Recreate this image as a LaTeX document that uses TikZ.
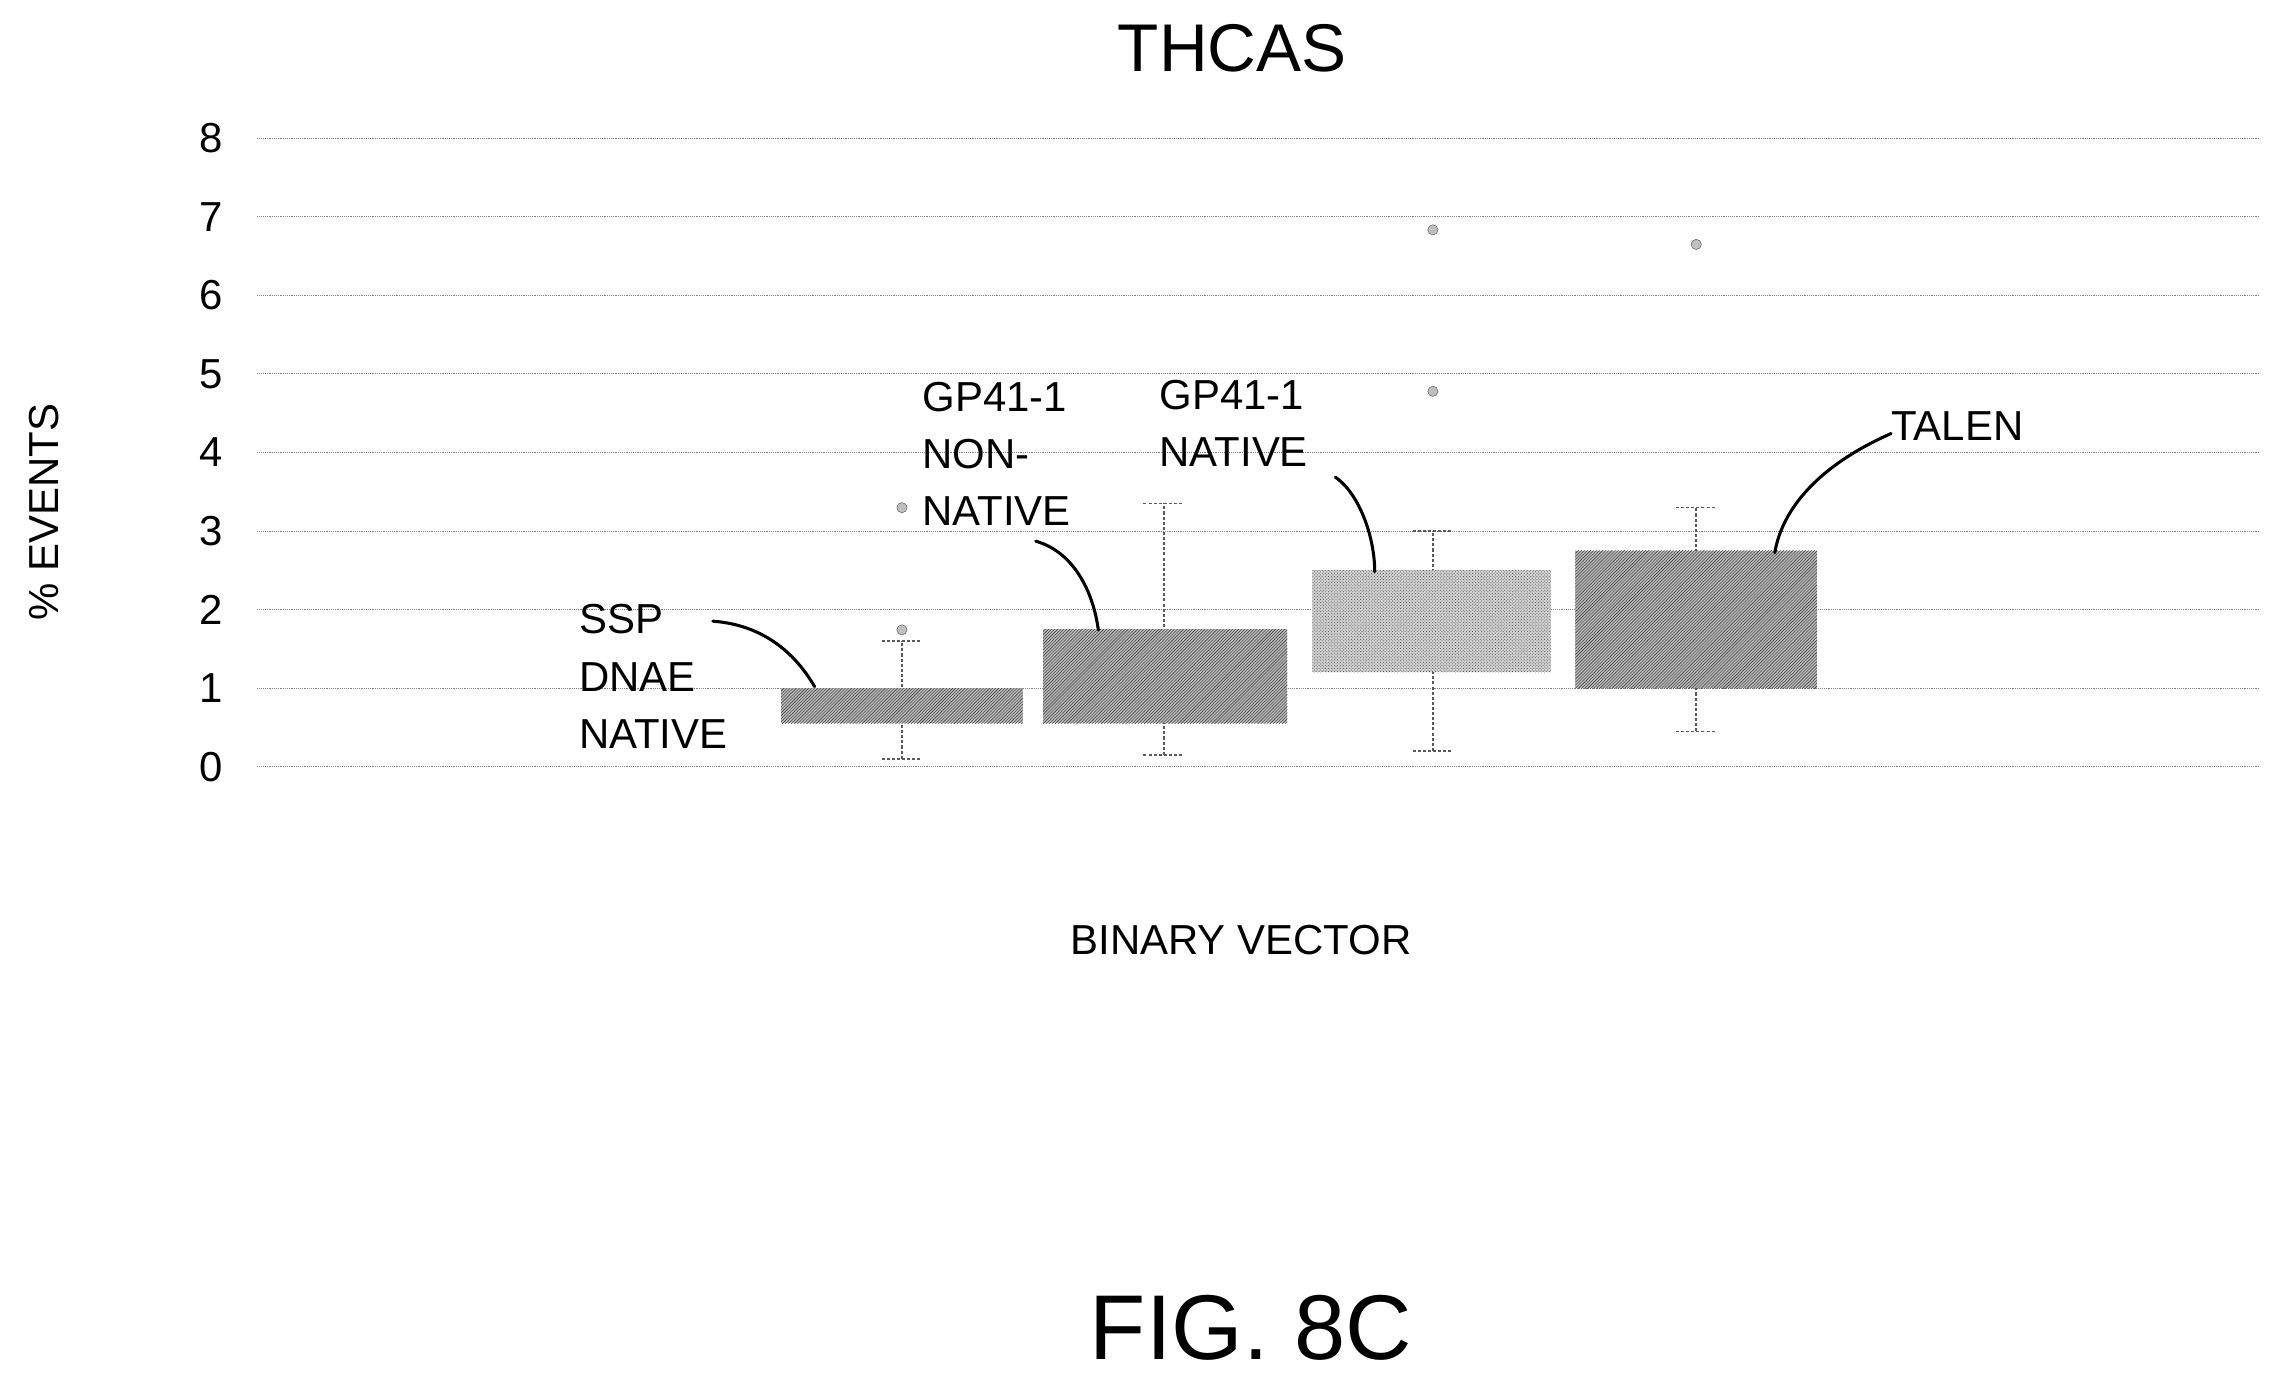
\documentclass[tikz,border=0pt]{standalone}
\usepackage{fontspec}
\setmainfont{Liberation Sans}
\usetikzlibrary{patterns}
\begin{document}
\begin{tikzpicture}[x=0.5mm,y=-0.5mm,
  lbl/.style={font=\fontsize{41}{50}\selectfont,align=left,inner sep=0},
  tick/.style={font=\fontsize{41}{50}\selectfont,anchor=east,inner sep=0},
  grid/.style={densely dotted,gray,line width=0.8pt},
  bx/.style={fill=gray!55,postaction={pattern=north east lines,pattern color=black!80}},
  bxl/.style={fill=gray!35,postaction={pattern=crosshatch dots,pattern color=black!70}},
  wh/.style={densely dashed,gray!70!black,line width=1.5pt},
  call/.style={line width=3pt,line cap=round},
  outl/.style={circle,draw=gray!60!black,fill=gray!50,minimum size=10pt,inner sep=0}]
\useasboundingbox (0,0) rectangle (1568,953);
\node[font=\fontsize{66}{70}\selectfont] (title) at (847,33) {THCAS};
\foreach \v in {0,...,8}{
  \draw[grid] (177,{527-54*\v}) -- (1553,{527-54*\v});
  \node[tick] (t\v) at (153,{527-54*\v}) {\v};}
\node[lbl,rotate=90] (yl) at (30,352) {\% EVENTS};
\node[lbl] (xl) at (853,646) {BINARY VECTOR};
\node[font=\fontsize{90}{95}\selectfont] (fig) at (860,913) {FIG. 8C};
% whiskers
\foreach \x/\lo/\hi in {620/0.1/1.6,800/0.15/3.35,985/0.2/3.0,1166/0.45/3.3}{
  \draw[wh] (\x,{527-54*\lo}) -- (\x,{527-54*\hi});
  \draw[wh] (\x-14,{527-54*\lo}) -- (\x+14,{527-54*\lo});
  \draw[wh] (\x-14,{527-54*\hi}) -- (\x+14,{527-54*\hi});}
% boxes
\path[bx] (537,{527-54*0.55}) rectangle (703,{527-54*1.0});
\path[bx] (717,{527-54*0.55}) rectangle (885,{527-54*1.75});
\path[bxl] (902,{527-54*1.2}) rectangle (1066,{527-54*2.5});
\path[bx] (1083,{527-54*1.0}) rectangle (1249,{527-54*2.75});
% outliers
\node[outl] (o1) at (620,433) {};
\node[outl] (o2) at (620,349) {};
\node[outl] (o3) at (985,158) {};
\node[outl] (o4) at (985,269) {};
\node[outl] (o5) at (1166,168) {};
% labels
\node[lbl,anchor=west] (l1) at (398,465) {SSP\\[6pt]DNAE\\[6pt]NATIVE};
\node[lbl,anchor=west] (l2) at (634,312) {GP41-1\\[6pt]NON-\\[6pt]NATIVE};
\node[lbl,anchor=west] (l3) at (797,291) {GP41-1\\[6pt]NATIVE};
\node[lbl,anchor=west] (l4) at (1300,293) {TALEN};
\coordinate (c1) at (560,472);
\coordinate (c2) at (755,433);
\coordinate (c3) at (945,393);
\coordinate (c4) at (1220,380);
\draw[call] (490,427) .. controls (530,430) and (550,455) .. (c1);
\draw[call] (712,372) .. controls (740,380) and (752,410) .. (c2);
\draw[call] (918,328) .. controls (935,340) and (945,370) .. (c3);
\draw[call] (1300,298) .. controls (1250,320) and (1225,350) .. (c4);
\end{tikzpicture}
\end{document}
